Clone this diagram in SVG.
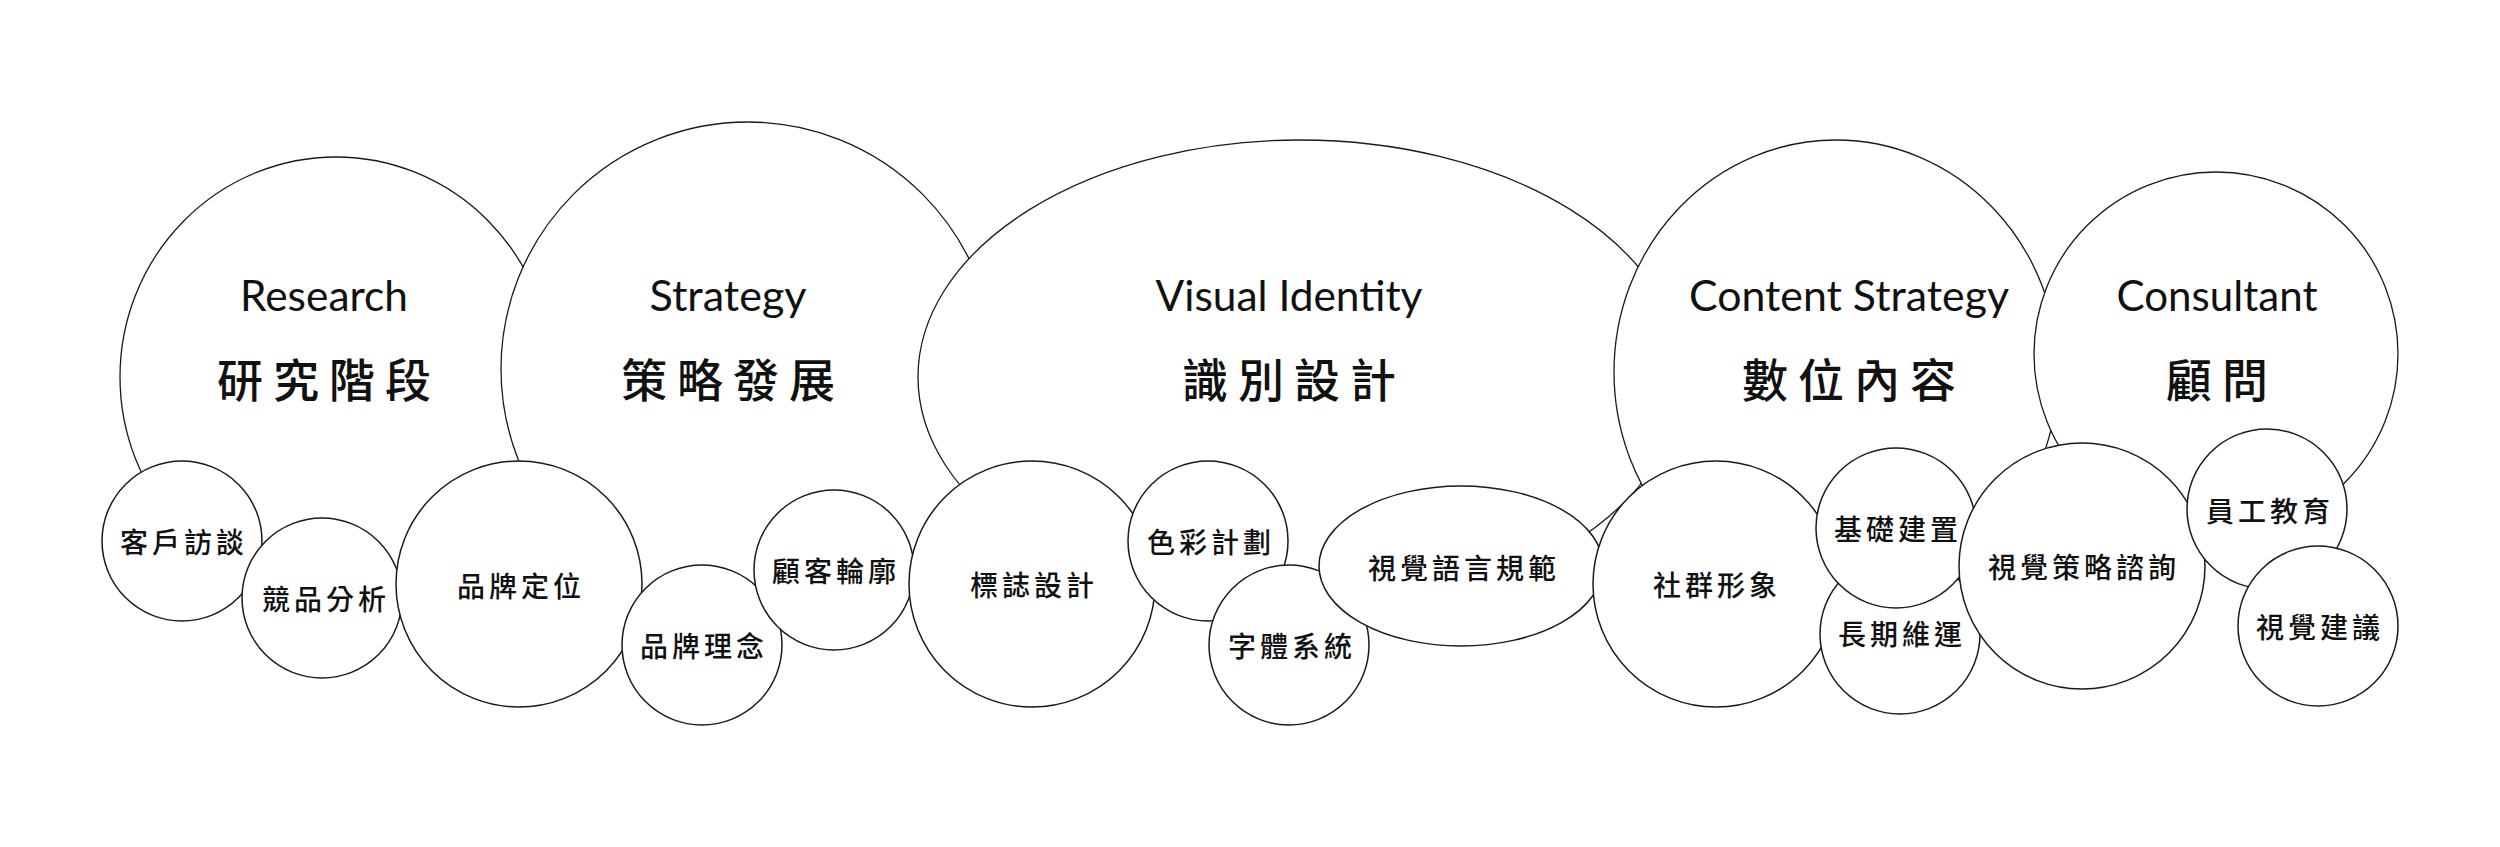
<svg xmlns="http://www.w3.org/2000/svg" width="2500" height="847" viewBox="0 0 2500 847">
<style>
.big{fill:#fff;stroke:#1a1a1a;stroke-width:1.3}
.sm{fill:#fff;stroke:#1a1a1a;stroke-width:1.5}
.en{font-family:"Lato","Liberation Sans",sans-serif;font-weight:400;font-size:43px;fill:#111;text-anchor:middle}
.zh{font-family:"Noto Sans CJK TC","Noto Sans CJK SC",sans-serif;font-weight:500;font-size:46px;letter-spacing:10px;fill:#111;text-anchor:middle;dominant-baseline:central}
.lb{font-family:"Noto Sans CJK TC","Noto Sans CJK SC",sans-serif;font-weight:500;font-size:28px;letter-spacing:4px;fill:#111;text-anchor:middle;dominant-baseline:central}
</style>
<rect width="2500" height="847" fill="#fff"/>
<g id="connectors"></g>
<g id="research">
<ellipse class="big" cx="336" cy="377" rx="216" ry="220"/>
<text class="en" x="324" y="311" textLength="168" lengthAdjust="spacingAndGlyphs">Research</text>
<text class="zh" x="329" y="377">研究階段</text>
</g>
<g id="strategy">
<circle class="big" cx="748" cy="369" r="247"/>
<text class="en" x="728" y="311" textLength="157" lengthAdjust="spacingAndGlyphs">Strategy</text>
<text class="zh" x="733" y="377">策略發展</text>
</g>
<g id="visual-identity">
<ellipse class="big" cx="1300" cy="377" rx="382" ry="237"/>
<text class="en" x="1289" y="311" textLength="267" lengthAdjust="spacingAndGlyphs">Visual Identity</text>
<text class="zh" x="1294" y="377">識別設計</text>
</g>
<g id="content-strategy">
<ellipse class="big" cx="1836" cy="372" rx="222" ry="232"/>
<text class="en" x="1849" y="311" textLength="320" lengthAdjust="spacingAndGlyphs">Content Strategy</text>
<text class="zh" x="1854" y="377">數位內容</text>
</g>
<g id="consultant">
<circle class="big" cx="2216" cy="354" r="182"/>
<text class="en" x="2217" y="311" textLength="201" lengthAdjust="spacingAndGlyphs">Consultant</text>
<text class="zh" x="2222" y="377">顧問</text>
</g>
<g id="n-kehu"><circle class="sm" cx="182" cy="541" r="80"/><text class="lb" x="184" y="541">客戶訪談</text></g>
<g id="n-jingpin"><circle class="sm" cx="322" cy="598" r="80"/><text class="lb" x="326" y="598">競品分析</text></g>
<g id="n-dingwei"><circle class="sm" cx="519" cy="584" r="123"/><text class="lb" x="521" y="585">品牌定位</text></g>
<g id="n-linian"><circle class="sm" cx="702" cy="645" r="80"/><text class="lb" x="704" y="645">品牌理念</text></g>
<g id="n-gukelunkuo"><circle class="sm" cx="834" cy="570" r="80"/><text class="lb" x="836" y="570">顧客輪廓</text></g>
<g id="n-biaozhi"><circle class="sm" cx="1032" cy="584" r="123"/><text class="lb" x="1034" y="584">標誌設計</text></g>
<g id="n-secai"><circle class="sm" cx="1208" cy="541" r="80"/><text class="lb" x="1211" y="541">色彩計劃</text></g>
<g id="n-ziti"><circle class="sm" cx="1289" cy="645" r="80"/><text class="lb" x="1292" y="645">字體系統</text></g>
<g id="n-yuyan"><ellipse class="sm" cx="1461" cy="566" rx="142" ry="80"/><text class="lb" x="1464" y="567">視覺語言規範</text></g>
<g id="n-shequn"><circle class="sm" cx="1716" cy="584" r="123"/><text class="lb" x="1717" y="584">社群形象</text></g>
<g id="n-changqi"><circle class="sm" cx="1900" cy="634" r="80"/><text class="lb" x="1902" y="633">長期維運</text></g>
<g id="n-jichu"><circle class="sm" cx="1896" cy="528" r="80"/><text class="lb" x="1898" y="528">基礎建置</text></g>
<g id="n-zixun"><circle class="sm" cx="2082" cy="566" r="123"/><text class="lb" x="2084" y="566">視覺策略諮詢</text></g>
<g id="n-yuangong"><circle class="sm" cx="2267" cy="509" r="80"/><text class="lb" x="2270" y="510">員工教育</text></g>
<g id="n-jianyi"><circle class="sm" cx="2318" cy="626" r="80"/><text class="lb" x="2320" y="626">視覺建議</text></g>
</svg>
